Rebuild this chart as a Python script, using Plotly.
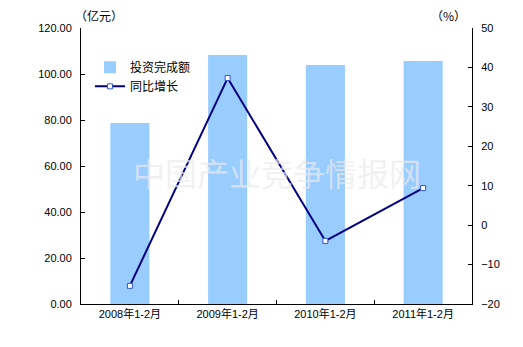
import plotly.graph_objects as go

categories = ["2008年1-2月", "2009年1-2月", "2010年1-2月", "2011年1-2月"]
investment = [78.7, 108.3, 103.9, 105.7]
growth = [-15.4, 37.3, -4.0, 9.4]
left_ticks = [0, 20, 40, 60, 80, 100, 120]
right_ticks = [-20, -10, 0, 10, 20, 30, 40, 50]

FONT = "Liberation Sans, Noto Sans CJK SC, sans-serif"

fig = go.Figure()
fig.add_trace(go.Bar(
    x=categories, y=investment, name="投资完成额",
    marker=dict(color="#99CCFF", line=dict(width=0)),
    width=0.4, yaxis="y",
))
fig.add_trace(go.Scatter(
    x=categories, y=growth, name="同比增长", mode="lines+markers",
    line=dict(color="#000080", width=2),
    marker=dict(symbol="square", size=5, color="white",
                line=dict(color="#3355CC", width=1)),
    yaxis="y2",
))

fig.update_layout(
    width=523, height=347,
    margin=dict(l=81, r=51, t=28, b=43),
    paper_bgcolor="white", plot_bgcolor="white",
    font=dict(family=FONT, size=11, color="black"),
    showlegend=True,
    legend=dict(x=0.023, y=0.91, xanchor="left", yanchor="top",
                bgcolor="rgba(0,0,0,0)", font=dict(size=12, family="Noto Sans CJK SC"),
                itemwidth=30, tracegroupgap=2),
    bargap=0.6,
    xaxis=dict(
        showline=True, linecolor="black", linewidth=1,
        ticks="inside", tickson="boundaries", ticklen=4, tickcolor="black",
        showgrid=False, zeroline=False,
        tickfont=dict(size=11, family="Liberation Sans, Noto Sans CJK SC"),
    ),
    yaxis=dict(
        range=[0, 120], tickvals=left_ticks,
        ticktext=[f"{v:.2f}" for v in left_ticks],
        showline=True, linecolor="black", linewidth=1,
        ticks="inside", ticklen=4, tickcolor="black",
        showgrid=False, zeroline=False, ticklabelstandoff=6,
    ),
    yaxis2=dict(
        range=[-20, 50], tickvals=right_ticks, overlaying="y", side="right",
        showline=True, linecolor="black", linewidth=1,
        ticks="inside", ticklen=4, tickcolor="black",
        showgrid=False, zeroline=False, ticklabelstandoff=6,
    ),
    annotations=[
        dict(text="（亿元）", xref="paper", yref="paper", x=-0.02, y=1.0,
             xanchor="left", yanchor="bottom", showarrow=False,
             font=dict(size=12, family="Noto Sans CJK SC"), yshift=2),
        dict(text="（%）", xref="paper", yref="paper", x=1.0, y=1.0,
             xanchor="right", yanchor="bottom", showarrow=False,
             font=dict(size=12, family="Noto Sans CJK SC"), yshift=2, xshift=-4),
        dict(text="中国产业竞争情报网", xref="paper", yref="paper", x=0.5, y=0.48,
             xanchor="center", yanchor="middle", showarrow=False,
             font=dict(size=32, family="Noto Sans CJK SC", color="rgba(235,235,235,0.7)")),
    ],
)

fig.write_html("out.html")
